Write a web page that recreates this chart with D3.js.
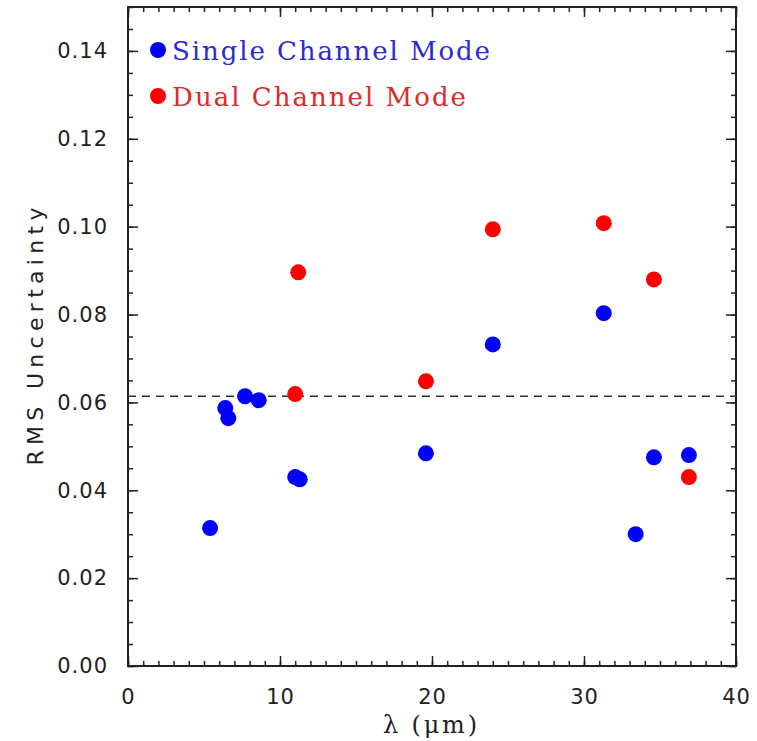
<!DOCTYPE html>
<html>
  <head>
    <meta charset="utf-8">
    <title>RMS Uncertainty</title>
    <script src="https://cdn.jsdelivr.net/npm/d3@7"></script>
    <style>
      body { margin: 0; background: #fff; }
      .tick text { font-family: "DejaVu Sans", sans-serif; font-size: 21px; letter-spacing: 1px; fill: #222; }
      .domain { display: none; }
      .tick line { stroke: #222; stroke-width: 1.5; }
    </style>
  </head>
  <body>
    <svg id="chart" width="757" height="741"></svg>
    <script>
    // wavelength (um) and RMS uncertainty
    var singleX = [5.4, 6.4, 6.6, 7.7, 8.6, 11.0, 11.3, 19.6, 24.0, 31.3, 33.4, 34.6, 36.9];
    var singleY = [0.0314, 0.0587, 0.0564, 0.0614, 0.0605, 0.0430, 0.0425, 0.0484, 0.0732, 0.0803, 0.0300, 0.0475, 0.0480];
    var dualX = [11.2, 11.0, 19.6, 24.0, 31.3, 34.6, 36.9];
    var dualY = [0.0896, 0.0619, 0.0648, 0.0994, 0.1008, 0.0880, 0.0430];
    var threshold = 0.0614;
    var xTicks = [0, 10, 20, 30, 40];
    var yTicks = [0, 0.02, 0.04, 0.06, 0.08, 0.10, 0.12, 0.14];

    var margin = {top: 7, right: 21, bottom: 75, left: 128};
    var width = 757 - margin.left - margin.right;
    var height = 741 - margin.top - margin.bottom;

    var svg = d3.select("#chart");
    var g = svg.append("g").attr("transform", "translate(" + margin.left + "," + margin.top + ")");

    var x = d3.scaleLinear().domain([0, 40]).range([0, width]);
    var y = d3.scaleLinear().domain([0, 0.15]).range([height, 0]);

    var xMinor = d3.range(0, 41, 1);
    var yMinor = d3.range(0, 0.1501, 0.005);

    // minor ticks, all four sides, pointing in
    g.append("g").attr("transform", "translate(0," + height + ")")
      .call(d3.axisBottom(x).tickValues(xMinor).tickSize(-5).tickFormat(""));
    g.append("g")
      .call(d3.axisTop(x).tickValues(xMinor).tickSize(-5).tickFormat(""));
    g.append("g")
      .call(d3.axisLeft(y).tickValues(yMinor).tickSize(-5).tickFormat(""));
    g.append("g").attr("transform", "translate(" + width + ",0)")
      .call(d3.axisRight(y).tickValues(yMinor).tickSize(-5).tickFormat(""));

    // major ticks
    g.append("g").attr("transform", "translate(0," + height + ")")
      .call(d3.axisBottom(x).tickValues(xTicks).tickSize(-10).tickPadding(23).tickFormat(d3.format("d")));
    g.append("g")
      .call(d3.axisTop(x).tickValues(xTicks).tickSize(-10).tickFormat(""));
    g.append("g")
      .call(d3.axisLeft(y).tickValues(yTicks).tickSize(-10).tickPadding(20).tickFormat(d3.format(".2f")));
    g.append("g").attr("transform", "translate(" + width + ",0)")
      .call(d3.axisRight(y).tickValues(yTicks).tickSize(-10).tickFormat(""));

    // frame
    g.append("rect")
      .attr("width", width).attr("height", height)
      .attr("fill", "none").attr("stroke", "#222").attr("stroke-width", 2);

    // dashed reference line
    g.append("line")
      .attr("x1", 0).attr("x2", width)
      .attr("y1", y(threshold)).attr("y2", y(threshold))
      .attr("stroke", "#333").attr("stroke-width", 1.6)
      .attr("stroke-dasharray", "8,6");

    g.append("g").selectAll("circle")
      .data(dualX.map(function(d, i) { return [d, dualY[i]]; }))
      .enter().append("circle")
      .attr("cx", function(d) { return x(d[0]); })
      .attr("cy", function(d) { return y(d[1]); })
      .attr("r", 8)
      .attr("fill", "#ff0000");

    g.append("g").selectAll("circle")
      .data(singleX.map(function(d, i) { return [d, singleY[i]]; }))
      .enter().append("circle")
      .attr("cx", function(d) { return x(d[0]); })
      .attr("cy", function(d) { return y(d[1]); })
      .attr("r", 8)
      .attr("fill", "#0000ff");

    // legend
    var legend = [
      {label: "Single Channel Mode", dot: "#0000ff", text: "#2a2ad8", len: 318},
      {label: "Dual Channel Mode", dot: "#ff0000", text: "#e02a2a", len: 294}
    ];
    legend.forEach(function(d, i) {
      svg.append("circle")
        .attr("cx", 158).attr("cy", 50 + i * 46).attr("r", 8)
        .attr("fill", d.dot);
      svg.append("text")
        .attr("x", 172).attr("y", 60 + i * 46)
        .attr("textLength", d.len).attr("lengthAdjust", "spacing")
        .style("font-family", "'DejaVu Serif', serif")
        .style("font-size", "26px")
        .attr("fill", d.text)
        .text(d.label);
    });

    // axis titles
    svg.append("text")
      .attr("transform", "translate(43," + (margin.top + height / 2) + ") rotate(-90)")
      .attr("text-anchor", "middle")
      .attr("textLength", 258).attr("lengthAdjust", "spacing")
      .style("font-family", "'DejaVu Sans', sans-serif")
      .style("font-size", "22px")
      .attr("fill", "#222")
      .text("RMS Uncertainty");

    svg.append("text")
      .attr("x", 430).attr("y", 733)
      .attr("text-anchor", "middle")
      .attr("textLength", 94).attr("lengthAdjust", "spacing")
      .style("font-family", "'DejaVu Serif', serif")
      .style("font-size", "24px")
      .attr("fill", "#222")
      .text("λ (μm)");
    </script>
  </body>
</html>
